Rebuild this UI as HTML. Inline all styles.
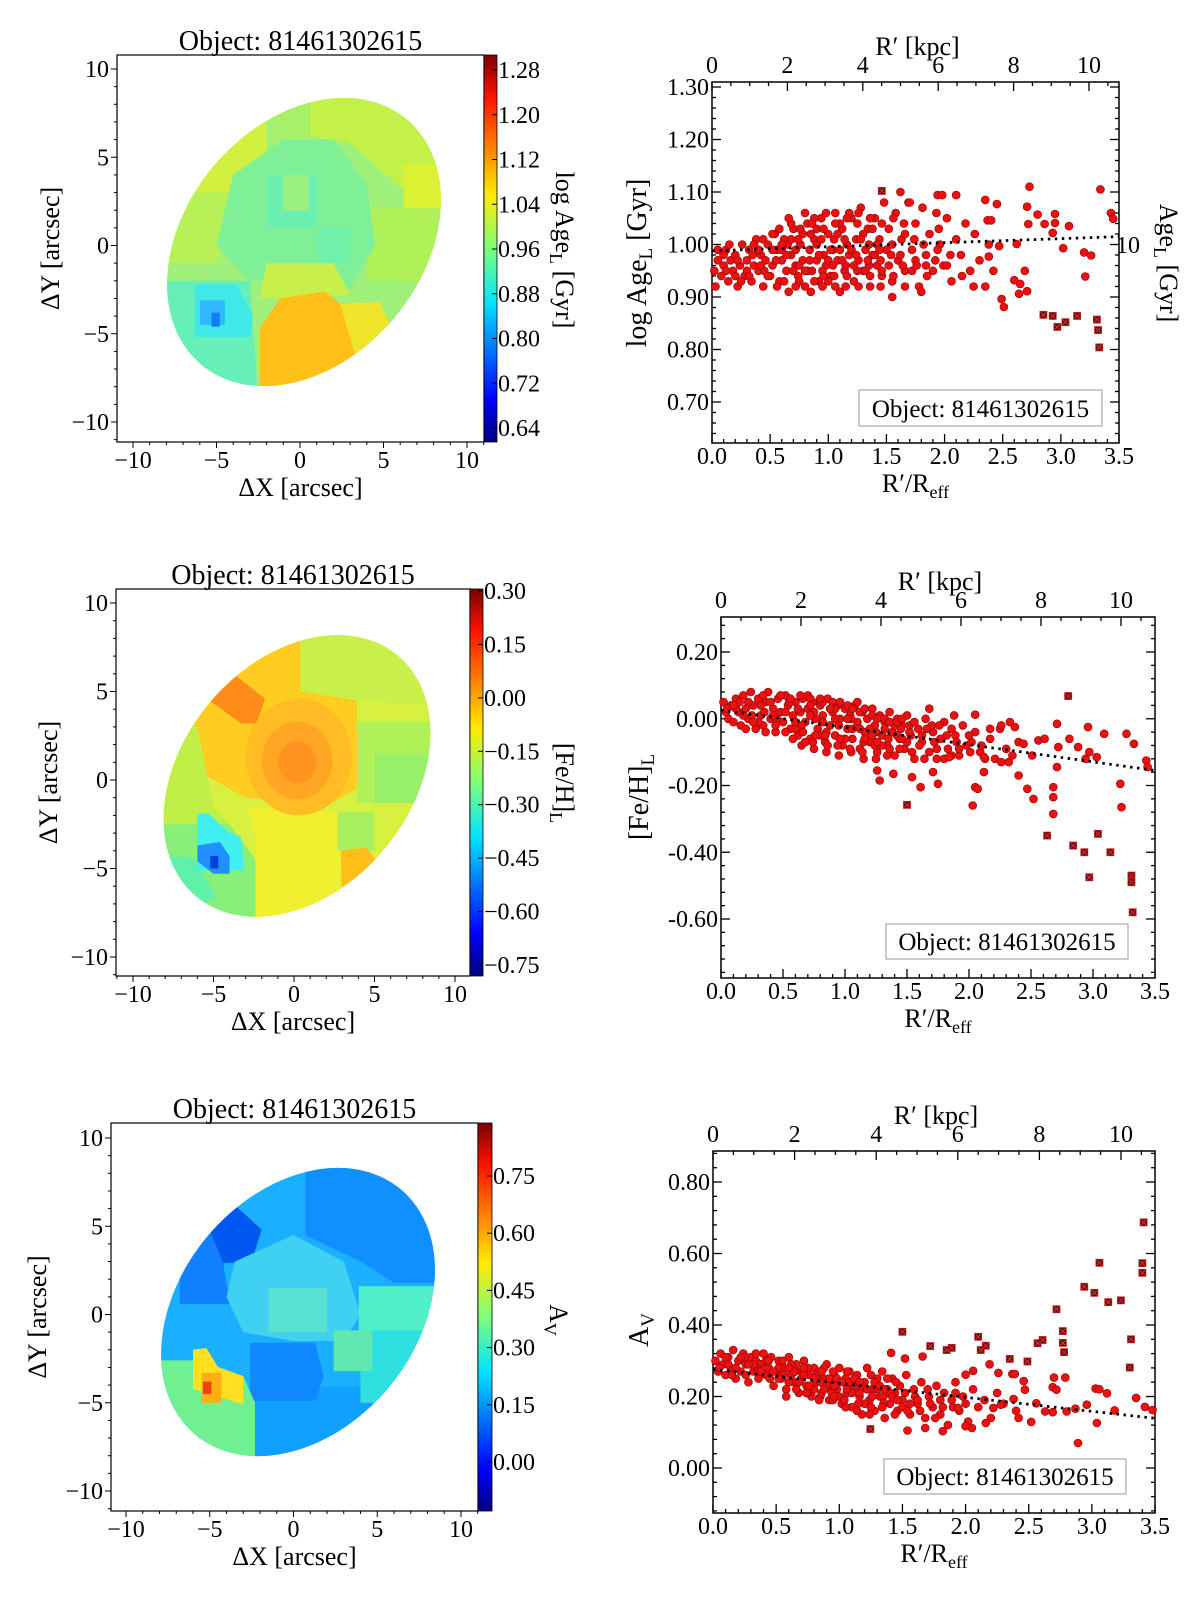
<!DOCTYPE html>
<html><head><meta charset="utf-8"><title>Object 81461302615 maps and radial profiles</title>
<style>
html,body{margin:0;padding:0;background:#fff;}
svg{display:block;font-family:"Liberation Serif","DejaVu Serif",serif;}
</style></head>
<body>
<svg id="fig" xmlns="http://www.w3.org/2000/svg" width="1200" height="1604" viewBox="0 0 1200 1604">
<defs>
<linearGradient id="jet" x1="0" y1="1" x2="0" y2="0">
<stop offset="0" stop-color="#00007f"/><stop offset="0.11" stop-color="#0000ff"/>
<stop offset="0.36" stop-color="#00e4ff"/><stop offset="0.5" stop-color="#7dff7a"/>
<stop offset="0.64" stop-color="#ffea00"/><stop offset="0.89" stop-color="#ff1300"/>
<stop offset="1" stop-color="#7f0000"/></linearGradient>
</defs>
</svg>
<script>
// ---------- scatter data (R'/Reff , value) ----------
const ageDense=[[.02,.95],[.03,.92],[.05,.97],[.08,.94],[.10,.96],[.12,.99],[.14,.93],[.16,.97],[.18,.95],[.20,.98],[.22,.92],[.24,.96],[.26,1.00],[.28,.94],[.30,.97],[.32,.99],[.34,.93],[.36,.96],[.38,1.01],[.40,.95],[.42,.98],[.44,.92],[.46,.97],[.48,1.00],[.50,.94],[.52,.96],[.54,1.02],[.56,.99],[.58,.93],[.60,.97],[.62,1.01],[.64,.95],[.66,.91],[.68,.98],[.70,1.03],[.72,.96],[.74,.94],[.76,1.00],[.78,.97],[.80,.92],[.82,1.04],[.84,.99],[.86,.95],[.88,1.01],[.90,.97],[.92,.93],[.94,1.05],[.96,.98],[.98,.96],[1.00,1.02],[1.02,.94],[1.04,.99],[1.06,1.06],[1.08,.97],[1.10,.91],[1.12,1.03],[1.14,.95],[1.16,1.00],[1.18,.98],[1.20,1.05],[1.22,.93],[1.24,1.01],[1.26,.97],[1.28,1.07],[1.30,.95],[1.32,.99],[1.34,1.03],[1.36,.92],[1.38,.98],[1.40,1.05],[1.42,.96],[1.44,1.01],[1.46,.94],[1.48,1.08],[1.50,.99],[1.52,1.03],[1.55,.93],[1.58,1.06],[1.60,.97],[1.63,1.01],[1.66,.95],[1.69,1.08],[1.72,.99],[1.75,1.04],[1.78,.92],[1.81,1.07],[1.84,.98],[1.87,1.02],[1.90,.95],[1.93,1.06],[1.96,1.00],[1.99,.96],[2.02,1.05],[2.06,.93],[2.10,1.01],[2.14,.98],[2.18,1.04],[2.22,.95],[2.26,1.02],[2.30,.97],[2.35,.92],[2.38,1.00],
[.05,.99],[.15,1.00],[.25,.93],[.35,.98],[.45,.95],[.55,.97],[.65,1.00],[.75,.96],[.85,1.02],[.95,.95],[1.05,1.01],[1.15,.96],[1.25,1.04],[1.35,1.00],[1.45,.97],[1.55,1.00],[1.65,1.04],[1.75,.97],[1.85,.94],[1.95,1.03],[2.05,.98],[2.15,.94],[.60,.99],[.70,.95],[.80,1.06],[.90,1.00],[1.00,.97],[1.10,1.04],[1.20,.99],[1.30,1.02],[1.40,.98],[.40,.99],[.30,.95],[.20,.94],[.10,.98],[.90,1.03],[1.00,.93],[1.10,.99],[.75,.93],[.85,.91],[.95,.92],[1.05,.94],[1.15,.92],[1.25,.95],[1.35,.96],[1.45,.92],[.68,1.04],[.78,1.02],[.88,1.05],[.98,1.06],[1.08,1.02],[1.18,1.06],[1.28,1.01],[1.38,1.03]];
const ageDense2=[[.12,.95],[.22,.97],[.32,.94],[.42,.96],[.52,.99],[.62,.93],[.72,.99],[.82,.95],[.92,.98],[1.02,.99],[1.12,.97],[1.22,.96],[1.32,.95],[1.42,1.00],[1.52,.96],[1.62,.98],[1.72,.95],[1.82,1.00],[1.92,.97],[2.02,.96],[.58,1.03],[.66,1.05],[.74,1.01],[.84,.97],[.94,1.01],[1.04,.96],[1.14,1.01],[1.24,.98],[1.34,.97],[1.44,.99],[1.54,.98],[1.64,.96],[1.74,1.01],[1.84,.96],[1.94,.99],[.48,.94],[.56,.92],[.64,.98],[.72,.92],[.80,.95],[.88,.93],[.96,.94],[1.06,.92],[1.16,.94],[1.26,.92],[1.36,.94],[1.46,.95],[1.56,.94],[1.66,.92],[1.76,.96],[.36,1.00],[.44,1.01],[.52,1.02],[.60,1.00],[.68,1.01],[.76,1.03],[.86,1.04],[.96,1.03],[1.06,1.04],[1.16,1.05],[1.26,1.06],[1.36,1.05],[1.46,1.04],[1.56,1.05],[1.66,1.02]];
const ageRed=[[2.73,1.110],[3.34,1.105],[2.71,1.072],[2.80,1.057],[3.43,1.06],[3.45,1.049],[2.95,1.058],[2.95,1.041],[2.72,1.039],[2.86,1.039],[3.07,1.035],[2.93,1.022],[2.62,1.001],[3.02,.993],[3.20,.985],[3.26,.979],[3.21,.939],[2.60,.932],[2.65,.925],[2.69,.95],[2.71,.911],[2.64,.906],[2.49,.896],[2.51,.881],[2.47,.997],[2.38,.977],[2.45,1.077],[2.35,1.085],[2.37,1.046],[2.40,1.046],[2.10,1.094],[1.94,1.094],[1.98,1.094],[1.62,1.10],[1.70,1.08],[1.55,.90],[1.80,.91],[2.25,.92],[2.42,.95]];
const ageDark=[[1.46,1.102],[2.85,.866],[2.93,.864],[2.97,.843],[3.04,.852],[3.14,.864],[3.31,.857],[3.32,.837],[3.33,.804]];
const ageTrend=[[0,.988],[3.5,1.015]];

const fehDense=[[.02,.05],[.04,.02],[.06,.00],[.08,.04],[.10,-.01],[.12,.06],[.14,.02],[.16,-.02],[.18,.07],[.20,.03],[.22,.00],[.24,.08],[.26,.04],[.28,-.03],[.30,.06],[.32,.01],[.34,-.02],[.36,.05],[.38,.08],[.40,.00],[.42,.03],[.44,-.04],[.46,.06],[.48,.02],[.50,-.01],[.52,.07],[.54,.04],[.56,-.03],[.58,.01],[.60,.05],[.62,-.05],[.64,.02],[.66,.06],[.68,-.01],[.70,.03],[.72,-.06],[.74,.05],[.76,.00],[.78,-.03],[.80,.04],[.82,.01],[.84,-.07],[.86,.06],[.88,-.02],[.90,.02],[.92,-.05],[.94,.04],[.96,.00],[.98,-.08],[1.00,.03],[1.02,-.03],[1.04,.01],[1.06,-.06],[1.08,.04],[1.10,-.01],[1.12,-.09],[1.14,.02],[1.16,-.04],[1.18,.00],[1.20,-.07],[1.22,.03],[1.24,-.02],[1.26,-.10],[1.28,.01],[1.30,-.05],[1.32,-.01],[1.34,-.08],[1.36,.02],[1.38,-.04],[1.40,-.11],[1.42,.00],[1.44,-.06],[1.46,-.02],[1.48,-.09],[1.50,.01],[1.53,-.05],[1.56,-.12],[1.59,-.03],[1.62,-.07],[1.65,.00],[1.68,-.10],[1.71,-.04],[1.74,-.12],[1.77,-.06],[1.80,-.01],[1.83,-.09],[1.86,-.11],[1.89,-.05],[1.92,-.11],[1.95,-.02],[1.98,-.08],[2.01,-.10],[2.05,-.04],[2.09,-.10],[2.13,-.12],[2.17,-.06],[2.21,-.12],[2.25,-.03],[2.30,-.09],[2.35,-.11],[2.40,-.07],
[.05,.03],[.15,.05],[.25,.01],[.35,.02],[.45,.00],[.55,.05],[.65,-.02],[.75,.02],[.85,-.04],[.95,-.02],[1.05,.00],[1.15,-.07],[1.25,-.04],[1.35,-.06],[1.45,-.03],[.60,-.03],[.70,.07],[.80,-.05],[.90,.05],[1.00,-.06],[1.10,.05],[1.20,-.03],[1.30,-.08],[1.40,-.02],[1.50,-.07],[.40,.05],[.30,-.01],[.20,-.03],[1.60,-.08],[1.70,-.02],[1.80,-.12],[1.90,-.07],[2.0,-.05],[2.1,-.08],[.65,-.08],[.75,-.09],[.85,-.10],[.95,-.11],[1.05,-.10],[1.15,-.12],[1.25,-.12],[.72,.06],[.82,.05],[.92,.03],[1.02,.04],[1.12,.02],[1.22,.01],[1.32,.00],[1.42,-.01],[1.52,-.02]];
const fehDense2=[[.12,.03],[.22,.05],[.32,.04],[.42,.01],[.52,.02],[.62,.03],[.72,.01],[.82,-.01],[.92,.00],[1.02,.00],[1.12,-.03],[1.22,-.05],[1.32,-.03],[1.42,-.05],[1.52,-.04],[1.62,-.05],[1.72,-.07],[1.82,-.05],[1.92,-.09],[2.02,-.07],[.58,-.06],[.66,-.04],[.74,-.07],[.84,-.05],[.94,-.08],[1.04,-.09],[1.14,-.10],[1.24,-.08],[1.34,-.11],[1.44,-.09],[1.54,-.10],[1.64,-.12],[1.74,-.09],[.48,.07],[.56,.06],[.64,.07],[.72,.04],[.80,.06],[.88,.03],[.96,.05],[1.06,.03],[1.16,.03],[1.26,.00],[1.36,-.01],[1.46,.00],[1.56,-.01],[1.66,-.03],[1.76,-.02],[1.86,-.03],[.36,-.04],[.44,-.02],[.52,-.04],[.60,-.01],[.68,-.07],[.76,-.05],[.86,-.08],[.96,-.06],[1.06,-.03],[1.16,-.06],[1.26,-.07],[1.36,-.09],[1.46,-.06],[.18,.01],[.26,-.01],[.34,.07],[.10,.04]];
const fehRed=[[2.03,-.26],[2.47,-.21],[2.52,-.24],[2.68,-.205],[2.68,-.235],[2.68,-.285],[2.71,-.145],[2.72,-.085],[2.71,-.015],[2.81,-.06],[2.88,-.085],[2.94,-.12],[2.96,-.025],[2.97,-.10],[3.03,-.115],[3.09,-.045],[3.22,-.195],[3.23,-.265],[3.27,-.045],[3.33,-.075],[3.43,-.125],[3.44,-.145],[2.40,-.17],[2.51,-.11],[2.56,-.065],[2.61,-.06],[2.44,-.075],[2.37,-.025],[2.26,-.13],[2.32,-.13],[2.12,-.16],[2.05,-.205],[2.07,-.21],[1.75,-.195],[1.71,-.16],[1.61,-.205],[1.54,-.175],[1.39,-.165],[1.28,-.185],[1.26,-.155],[1.68,.03],[1.88,.01],[2.05,.012],[2.17,-.03],[2.26,-.02],[2.33,-.01],[2.12,-.115],[1.84,-.115]];
const fehDark=[[2.80,.068],[1.50,-.258],[2.63,-.35],[2.84,-.38],[2.93,-.40],[2.97,-.475],[3.04,-.345],[3.14,-.40],[3.31,-.47],[3.31,-.49],[3.32,-.58]];
const fehTrend=[[0,.026],[3.5,-.155]];

const avDense=[[.02,.30],[.04,.27],[.06,.32],[.08,.29],[.10,.26],[.12,.31],[.14,.28],[.16,.33],[.18,.25],[.20,.30],[.22,.27],[.24,.32],[.26,.29],[.28,.24],[.30,.31],[.32,.27],[.34,.30],[.36,.25],[.38,.29],[.40,.32],[.42,.26],[.44,.28],[.46,.31],[.48,.23],[.50,.27],[.52,.30],[.54,.25],[.56,.28],[.58,.22],[.60,.31],[.62,.26],[.64,.24],[.66,.29],[.68,.21],[.70,.27],[.72,.30],[.74,.23],[.76,.26],[.78,.20],[.80,.28],[.82,.24],[.84,.27],[.86,.21],[.88,.25],[.90,.29],[.92,.19],[.94,.23],[.96,.26],[.98,.22],[1.00,.28],[1.02,.18],[1.04,.24],[1.06,.21],[1.08,.27],[1.10,.17],[1.12,.23],[1.14,.26],[1.16,.20],[1.18,.15],[1.20,.24],[1.22,.28],[1.24,.19],[1.26,.22],[1.28,.16],[1.30,.25],[1.32,.20],[1.34,.27],[1.36,.14],[1.38,.22],[1.40,.18],[1.42,.25],[1.44,.21],[1.46,.16],[1.48,.23],[1.50,.19],[1.53,.26],[1.56,.15],[1.59,.22],[1.62,.18],[1.65,.24],[1.68,.14],[1.71,.20],[1.74,.17],[1.77,.23],[1.80,.15],[1.83,.21],[1.86,.12],[1.89,.19],[1.92,.24],[1.95,.16],[1.98,.20],[2.02,.13],[2.06,.22],[2.10,.17],[2.15,.19],[2.20,.14],[2.25,.21],[2.30,.18],[2.40,.16],
[.05,.28],[.15,.26],[.25,.31],[.35,.28],[.45,.25],[.55,.30],[.65,.27],[.75,.28],[.85,.24],[.95,.27],[1.05,.25],[1.15,.22],[1.25,.26],[1.35,.20],[1.45,.24],[.60,.24],[.70,.25],[.80,.22],[.90,.23],[1.0,.20],[1.1,.21],[1.2,.18],[1.3,.22],[1.4,.21],[1.5,.17],[1.6,.20],[1.7,.22],[1.8,.19],[1.9,.17],[2.0,.18],[.85,.20],[.95,.19],[1.05,.17],[1.15,.18],[1.25,.17],[1.35,.18],[.75,.21],[.88,.28],[.98,.25],[1.08,.24],[1.18,.23],[1.28,.24],[1.38,.25]];
const avDense2=[[.12,.29],[.22,.31],[.32,.29],[.42,.30],[.52,.28],[.62,.29],[.72,.26],[.82,.26],[.92,.25],[1.02,.24],[1.12,.25],[1.22,.22],[1.32,.23],[1.42,.20],[1.52,.21],[1.62,.19],[1.72,.18],[1.82,.17],[1.92,.21],[.58,.20],[.66,.22],[.74,.21],[.84,.19],[.94,.21],[1.04,.19],[1.14,.16],[1.24,.15],[1.34,.17],[1.44,.15],[1.54,.16],[1.64,.16],[.48,.27],[.56,.26],[.64,.27],[.72,.28],[.80,.25],[.88,.22],[.96,.23],[1.06,.22],[1.16,.24],[1.26,.20],[1.36,.22],[1.46,.19],[1.56,.18],[.36,.27],[.44,.30],[.52,.25],[.60,.28],[.68,.24],[.76,.23],[.86,.27],[.96,.20],[1.06,.27],[1.16,.21],[.18,.28],[.26,.26],[.34,.32],[.10,.31],[.28,.29],[.38,.27]];
const avRed=[[2.89,.070],[3.04,.126],[3.03,.222],[3.06,.22],[3.12,.209],[3.18,.161],[3.35,.196],[3.42,.171],[3.48,.162],[2.96,.177],[2.87,.166],[2.80,.158],[2.69,.156],[2.63,.158],[2.70,.253],[2.69,.226],[2.72,.219],[2.79,.253],[2.56,.181],[2.52,.129],[2.47,.219],[2.46,.243],[2.42,.140],[2.37,.263],[2.39,.263],[2.38,.193],[2.28,.177],[2.22,.168],[2.26,.266],[2.19,.29],[2.16,.126],[2.05,.112],[2.00,.117],[2.00,.261],[2.06,.272],[1.94,.168],[1.82,.103],[1.76,.140],[1.68,.112],[1.54,.105],[1.52,.306],[1.66,.312],[1.41,.322]];
const avDark=[[1.50,.381],[1.246,.109],[1.72,.341],[1.85,.330],[1.89,.336],[2.10,.367],[2.12,.33],[2.16,.342],[2.35,.305],[2.49,.298],[2.57,.349],[2.61,.358],[2.72,.444],[2.77,.383],[2.77,.350],[2.78,.324],[2.94,.507],[3.02,.490],[3.06,.574],[3.13,.464],[3.23,.469],[3.30,.281],[3.31,.360],[3.40,.573],[3.40,.546],[3.41,.687]];
const avTrend=[[0,.276],[3.5,.139]];

// tick label arrays
const rTicks=[0,0.5,1,1.5,2,2.5,3,3.5];
const kpcTicks=[0,2,4,6,8,10];
const ageYTicks=[1.3,1.2,1.1,1.0,0.9,0.8,0.7];
const fehYTicks=[0.2,0,-0.2,-0.4,-0.6];
const avYTicks=[0.8,0.6,0.4,0.2,0];
const mapTicks=[-10,-5,0,5,10];
const ageCbTicks=[1.28,1.20,1.12,1.04,0.96,0.88,0.80,0.72,0.64];
const fehCbTicks=[0.30,0.15,0.00,-0.15,-0.30,-0.45,-0.60,-0.75];
const avCbTicks=[0.75,0.60,0.45,0.30,0.15,0.00];

const NS='http://www.w3.org/2000/svg';
const svg=document.getElementById('fig');
function mk(tag,attrs,parent){const e=document.createElementNS(NS,tag);for(const k in attrs)e.setAttribute(k,attrs[k]);(parent||svg).appendChild(e);return e;}
function lin(d0,d1,p0,p1){return v=>p0+(v-d0)*(p1-p0)/(d1-d0);}
function txt(parent,x,y,s,size,anchor){const t=mk('text',{x:x,y:y,'font-size':size,'text-anchor':anchor||'middle',fill:'#000'},parent);t.textContent=s;return t;}
function fmtMinus(v,d){const s=Math.abs(v).toFixed(d);return (v<-1e-9?'\u2212':'')+s;}
function fmtHyph(v,d){const s=Math.abs(v).toFixed(d);return (v<-1e-9?'-':'')+s;}

// ---------- maps ----------
function R(x0,x1,y0,y1){return [[x0,y0],[x1,y0],[x1,y1],[x0,y1]];}
const ageRegions=[
['#b8f058',[[-9,-1],[-5,-1],[-3,3],[-6,3],[-9,3]]],
['#c4f04a',[[0.6,9],[9,9],[9,3],[6,3.3],[3,5.8],[0.6,6.2]]],
['#d2f040',R(-6.5,-2,3,7.5)],
['#a8f068',R(-1.6,0.6,5.5,9)],
['#dcf034',R(6.2,9,2.1,4.6)],
['#b0f058',R(4,9,-2,2.1)],
['#80f098',[[-4,4],[-1,6],[2,6],[4,3.5],[4.5,0],[3,-2.5],[0,-1.8],[-3,-2],[-5,0]]],
['#6cf0b0',R(-2,1,4,1)],['#70f0a8',R(1,3,1,-1)],['#9cf080',R(-1,0.5,2,4)],
['#66f0b8',[[-9,-2],[-3,-2],[-2.5,-9],[-9,-9]]],
['#40e8e8',[[-6.3,-2.2],[-3.8,-2.2],[-2.8,-4],[-3,-5.2],[-6.3,-5.2]]],
['#30b8ff',R(-6,-4.5,-3.1,-4.5)],
['#1080f0',R(-5.3,-4.8,-3.8,-4.6)],
['#c8f048',[[-2,-1],[2,-1],[3,-2.8],[-2.4,-3]]],
['#ffc018',[[-2.4,-4.7],[-1.2,-3],[1.5,-2.6],[2.4,-3.3],[3.4,-5.8],[3.4,-9],[-2.4,-9]]],
['#f0e42c',[[2.4,-3.3],[4.8,-3.2],[5.8,-5.5],[3.4,-6.5]]]];
const fehRegions=[
['#c8f048',[[0.4,9],[9,9],[9,4.2],[3.9,4.5],[0.4,5]]],
['#b0f058',R(3.9,9,3.3,-1.3)],
['#98f068',R(5,9,1.5,-1.3)],
['#ffcc20',[[-7,6],[-4,7.8],[0.4,8],[0.4,5],[3.9,4.5],[3.9,-0.5],[2,-1.5],[-3,-1],[-7,1]]],
['#ff8c18',[[-5.4,4.6],[-3.9,6.1],[-1.8,4.6],[-2.3,3.2],[-3.3,3.2]]],
['#f0f030',[[-3,-1.5],[2.7,-1.8],[2.9,-4],[2.9,-9],[-2.4,-9],[-2.4,-3]]],
['#a8f060',R(2.7,5,-1.8,-4)],
['#ffbe18',[[2.9,-4],[4.5,-3.8],[5.8,-5.4],[4,-7],[3,-6.6]]],
['#c0f048',[[-9,-2.5],[-9,3],[-6,3],[-5,-1.5],[-4,-2.5]]],
['#88f078',[[-9,-2.5],[-4,-2.5],[-2.4,-4.5],[-2.4,-9],[-9,-9]]],
['#60f0a8',[[-9,-4.2],[-6.2,-4.4],[-4.8,-6.6],[-6.5,-7.5],[-9,-6.5]]],
['#40f0f0',[[-6,-1.9],[-5.3,-1.9],[-4,-3],[-3.3,-3.2],[-3.1,-5.1],[-6,-5.1]]],
['#2090ff',[[-6,-3.7],[-4.6,-3.5],[-4,-4.3],[-4,-5.3],[-5,-5.3],[-6,-4.6]]],
['#0040e0',R(-5.2,-4.7,-4.3,-5.0)]];
const fehBlobs=[[0.3,1.3,3.3,'#ffbc24'],[0.2,1.1,2.2,'#ffa624'],[0.2,1.0,1.2,'#ff9420']];
const avRegions=[
['#1090ff',[[0.7,9],[9,9],[9,1.8],[6,1.8],[4,3],[0.7,4.5]]],
['#1080ff',[[-6.8,4.4],[-5.1,5],[-4.2,2.9],[-3.8,0.6],[-6.8,0.6]]],
['#0058f0',[[-5.1,5],[-3.5,6.2],[-1.9,4.8],[-2.5,3],[-4.2,2.9]]],
['#40d0f0',[[-3.5,3],[0,4.5],[3,3],[4,0],[3,-1.5],[0,-1.5],[-3,-1],[-4,1]]],
['#58e0d0',R(-1.5,2,1.5,-1)],
['#10a0ff',[[-2.3,-4.1],[5.5,-4.1],[5.5,-9],[-2.3,-9]]],
['#1088ff',[[-2.6,-1.6],[1.3,-1.6],[1.8,-3.5],[1.3,-4.9],[-2.6,-4.9]]],
['#30e0e0',R(4,9,-0.9,-5)],
['#50f0c8',R(3.9,9,1.6,-0.9)],
['#60e8b0',R(2.4,4.7,-0.9,-3.2)],
['#70f090',[[-9,-2.6],[-5.5,-2.6],[-3,-3.5],[-2.3,-5],[-2.3,-9],[-9,-9]]],
['#ffe020',[[-6,-2],[-5.2,-1.9],[-4.5,-3],[-3,-3.5],[-3,-5.1],[-6,-4.2]]],
['#ffb010',R(-5.5,-4.3,-3.3,-5.0)],
['#f04010',R(-5.4,-4.9,-3.8,-4.5)]];

function drawMap(id,c){
  const g=mk('g',{});
  
  
  const xs=lin(-10,10,c.xt[0],c.xt[1]), ys=lin(10,-10,c.yt[0],c.yt[1]);
  const clip=mk('clipPath',{id:'clip-'+id},g);
  mk('ellipse',{cx:c.el[0],cy:c.el[1],rx:c.el[2],ry:c.el[3],transform:`rotate(40 ${c.el[0]} ${c.el[1]})`},clip);
  const img=mk('g',{'clip-path':`url(#clip-${id})`},g);
  
  
  mk('rect',{x:c.box[0],y:c.box[2],width:c.box[1]-c.box[0],height:c.box[3]-c.box[2],fill:c.base},img);
  c.regions.forEach(r=>{mk('polygon',{points:r[1].map(p=>xs(p[0]).toFixed(1)+','+ys(p[1]).toFixed(1)).join(' '),fill:r[0]},img);});
  (c.blobs||[]).forEach(b=>{mk('ellipse',{cx:xs(b[0]),cy:ys(b[1]),rx:b[2]*Math.abs(xs(1)-xs(0)),ry:b[2]*Math.abs(ys(1)-ys(0)),fill:b[3]},img);});
  const box=mk('rect',{x:c.box[0],y:c.box[2],width:c.box[1]-c.box[0],height:c.box[3]-c.box[2],fill:'none',stroke:'#000','stroke-width':1.2},g);
  
  
  for(let v=-11;v<=11;v++){
    const L=(v%5===0)?6:3;
    const X=xs(v); if(X>=c.box[0]&&X<=c.box[1]) mk('line',{x1:X,x2:X,y1:c.box[3],y2:c.box[3]+L,stroke:'#000','stroke-width':1},g);
    const Y=ys(v); if(Y>=c.box[2]&&Y<=c.box[3]) mk('line',{x1:c.box[0]-L,x2:c.box[0],y1:Y,y2:Y,stroke:'#000','stroke-width':1},g);
  }
  mapTicks.forEach(v=>{
    const t=txt(g,xs(v),c.box[3]+26,fmtMinus(v,0),24);
    
    
    const u=txt(g,c.box[0]-8,ys(v)+8,fmtMinus(v,0),24,'end');
    
    
  });
  const ti=txt(g,(c.box[0]+c.box[1])/2,c.box[2]-5,'Object: 81461302615',28);
  
  
  const xl=txt(g,(c.box[0]+c.box[1])/2,c.box[3]+54,'\u0394X [arcsec]',26);
  
  
  const yc=(c.box[2]+c.box[3])/2;
  const yl=txt(g,c.ylx,yc,'\u0394Y [arcsec]',26);
  yl.setAttribute('transform',`rotate(-90 ${c.ylx} ${yc})`);
  
  
  const cb=mk('rect',{x:c.box[1],y:c.box[2],width:c.cbw,height:c.box[3]-c.box[2],fill:'url(#jet)',stroke:'#000','stroke-width':0.8},g);
  
  
  const cs=lin(c.cbt[0],c.cbt[1],c.cbt[2],c.cbt[3]);
  c.cbTicks.forEach(v=>{
    const Y=cs(v);
    mk('line',{x1:c.box[1]+c.cbw-5,x2:c.box[1]+c.cbw,y1:Y,y2:Y,stroke:'#000','stroke-width':1},g);
    const t=txt(g,c.box[1]+c.cbw+1,Y+8,fmtMinus(v,2),24,'start');
    
    
  });
  const cl=mk('text',{x:c.cbl[0],y:c.cbl[1],'font-size':26,'text-anchor':'middle',transform:`rotate(90 ${c.cbl[0]} ${c.cbl[1]})`},g);
  cl.innerHTML=c.cblab;
  
  
}
drawMap('age',{box:[117,484,55,442],xt:[133,467],yt:[69,422],el:[304,242,118,160],base:'#9ef07a',regions:ageRegions,
  cbw:13,cbt:[1.28,0.64,70,428],cbTicks:ageCbTicks,cbl:[556,250],ylx:59,
  cblab:'log Age<tspan font-size="18" dy="6">L</tspan><tspan dy="-6"> [Gyr]</tspan>'});
drawMap('feh',{box:[116,470,589,976],xt:[133,455],yt:[603,957],el:[297,776,114,157],base:'#d8f040',regions:fehRegions,blobs:fehBlobs,
  cbw:13,cbt:[0.30,-0.75,591,965],cbTicks:fehCbTicks,cbl:[556,783],ylx:57,
  cblab:'[Fe/H]<tspan font-size="18" dy="6">L</tspan>'});
drawMap('av',{box:[111,478,1123,1511],xt:[126,461],yt:[1138,1491],el:[298,1312,118,160],base:'#1ab0ff',regions:avRegions,
  cbw:14,cbt:[0.75,0,1176,1462],cbTicks:avCbTicks,cbl:[550,1320],ylx:46,
  cblab:'A<tspan font-size="18" dy="6">V</tspan>'});

// ---------- scatter panels ----------
function drawScatter(id,c){
  const g=mk('g',{});
  
  
  const [x0,x1,y0,y1]=c.box;
  const xs=lin(0,3.5,x0,x1), ys=lin(c.yt[0],c.yt[1],c.yt[2],c.yt[3]), ks=lin(0,10,x0,c.k10);
  const fr=mk('rect',{x:x0,y:y0,width:x1-x0,height:y1-y0,fill:'none',stroke:'#000','stroke-width':1.5},g);
  
  
  for(let i=0;i<=35;i++){const v=i/10,X=xs(v),L=(i%5===0)?9:4;
    mk('line',{x1:X,x2:X,y1:y1,y2:y1-L,stroke:'#000','stroke-width':1.3},g);}
  for(let i=0;i<=22;i++){const v=i/2,X=ks(v);if(X>x1+0.5)continue;const L=(i%4===0)?9:4;
    mk('line',{x1:X,x2:X,y1:y0,y2:y0+L,stroke:'#000','stroke-width':1.3},g);}
  const step=(c.yticks[0]-c.yticks[1])/5;
  for(let v=c.yticks[c.yticks.length-1]-5*step;v<=c.yticks[0]+5*step+1e-9;v+=step){
    const Y=ys(v); if(Y<y0-0.5||Y>y1+0.5)continue;
    const maj=c.yticks.some(t=>Math.abs(t-v)<1e-6), L=maj?9:4;
    mk('line',{x1:x0,x2:x0+L,y1:Y,y2:Y,stroke:'#000','stroke-width':1.3},g);
    mk('line',{x1:x1,x2:x1-L,y1:Y,y2:Y,stroke:'#000','stroke-width':1.3},g);
  }
  rTicks.forEach(v=>{const t=txt(g,xs(v),y1+21,v.toFixed(1),24);
    
    });
  kpcTicks.forEach(v=>{const t=txt(g,ks(v),y0-9,String(v),24);
    
    });
  c.yticks.forEach(v=>{const t=txt(g,x0-3,ys(v)+8,fmtHyph(v,2),24,'end');
    
    });
  const tt=mk('text',{x:(x0+x1)/2+2,y:y0-27,'font-size':26,'text-anchor':'middle'},g);
  tt.innerHTML='R\u2032  [kpc]';
  
  
  const bt=mk('text',{x:(x0+x1)/2,y:y1+49,'font-size':26,'text-anchor':'middle'},g);
  bt.innerHTML='R\u2032/R<tspan font-size="18" dy="6">eff</tspan>';
  
  
  const yl=mk('text',{x:c.yl[0],y:c.yl[1],'font-size':28,'text-anchor':'middle',transform:`rotate(-90 ${c.yl[0]} ${c.yl[1]})`},g);
  yl.innerHTML=c.ylab;
  
  
  const pg=mk('g',{},g);
  
  
  c.dense.concat(c.dense2,c.red).forEach(p=>{
    const m=mk('circle',{cx:xs(p[0]).toFixed(1),cy:ys(p[1]).toFixed(1),r:4,fill:'#ec1010',stroke:'#8a0000','stroke-width':0.6},pg);
    
    
  });
  c.dark.forEach(p=>{
    const X=xs(p[0]),Y=ys(p[1]);
    const m=mk('rect',{x:X-3.5,y:Y-3.5,width:7,height:7,fill:'#5a0a0a',stroke:'#c02020','stroke-width':0.8},pg);
    
    
    mk('path',{d:`M${X-2.5},${Y-2.5}L${X+2.5},${Y+2.5}M${X+2.5},${Y-2.5}L${X-2.5},${Y+2.5}`,stroke:'#e03030','stroke-width':1},pg);
  });
  const tl=mk('line',{x1:xs(c.trend[0][0]),y1:ys(c.trend[0][1]),x2:xs(c.trend[1][0]),y2:ys(c.trend[1][1]),stroke:'#000','stroke-width':2.8,'stroke-dasharray':'2.5 4.5'},g);
  
  
  const lg=mk('g',{},g);
  
  
  mk('rect',{x:c.leg[0],y:c.leg[1],width:c.leg[2]-c.leg[0],height:c.leg[3]-c.leg[1],fill:'#fff',stroke:'#999','stroke-width':1},lg);
  txt(lg,(c.leg[0]+c.leg[2])/2,c.leg[3]-9,'Object: 81461302615',25);
  return g;
}
drawScatter('age',{box:[712,1119,82,443],yt:[1.30,0.70,87,402],k10:1089,yticks:ageYTicks,
  dense:ageDense,dense2:ageDense2,red:ageRed,dark:ageDark,trend:ageTrend,leg:[859,390,1102,426],yl:[646,263],
  ylab:'log Age<tspan font-size="19" dy="6">L</tspan><tspan dy="-6"> [Gyr]</tspan>'});
const r1=svg.lastChild;
const ten=txt(r1,1128,253,'10',24);


const ra=mk('text',{x:1160,y:263,'font-size':26,'text-anchor':'middle',transform:'rotate(90 1160 263)'},r1);
ra.innerHTML='Age<tspan font-size="18" dy="6">L</tspan><tspan dy="-6"> [Gyr]</tspan>';


drawScatter('feh',{box:[721,1155,617,978],yt:[0.2,-0.6,652,919],k10:1121,yticks:fehYTicks,
  dense:fehDense,dense2:fehDense2,red:fehRed,dark:fehDark,trend:fehTrend,leg:[886,924,1128,959],yl:[648,797],
  ylab:'[Fe/H]<tspan font-size="19" dy="6">L</tspan>'});
drawScatter('av',{box:[713,1155,1151,1513],yt:[0.8,0,1182,1468],k10:1121,yticks:avYTicks,
  dense:avDense,dense2:avDense2,red:avRed,dark:avDark,trend:avTrend,leg:[884,1459,1126,1494],yl:[648,1330],
  ylab:'A<tspan font-size="19" dy="6">V</tspan>'});
</script>
</body></html>
